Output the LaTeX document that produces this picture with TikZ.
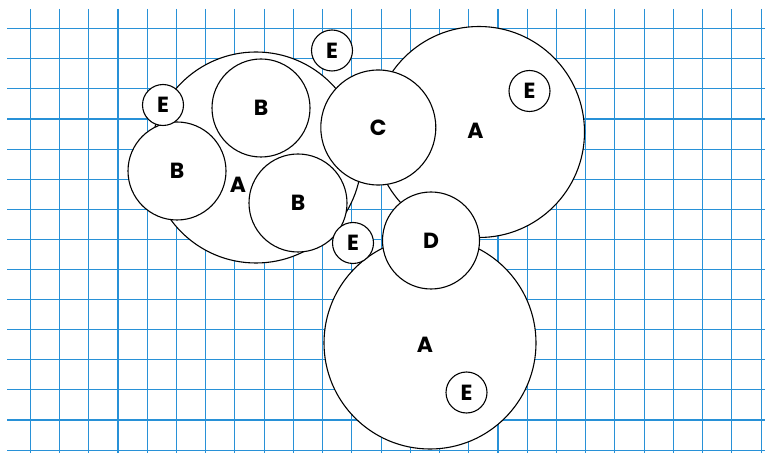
\documentclass[tikz,border=0pt]{standalone}
\usepackage{fontspec}
\usepackage{tikz}
\newfontfamily\tagfont{Poppins}[BoldFont={Poppins Bold}]
\definecolor{gridblue}{RGB}{40,145,215}
\tikzstyle{gridline} = [draw=gridblue, line width=1.1bp]
\tikzstyle{disc} = [circle, fill=white, draw=black, line width=1.1bp,
inner sep=0pt, font=\tagfont\bfseries\fontsize{22}{22}\selectfont]
\tikzstyle{big} = [disc, minimum size=211bp]
\tikzstyle{mid} = [disc, minimum size=98bp]
\tikzstyle{small} = [disc, minimum size=41bp]
\tikzstyle{tag} = [inner sep=0pt, font=\tagfont\bfseries\fontsize{22}{22}\selectfont]

\begin{document}
\begin{tikzpicture}[x=1bp, y=-1bp]
  \useasboundingbox[fill=white] (0,0) rectangle (765,453);
  % grid
  \foreach \i in {0,...,25} {
    \draw[gridline] ({30.3+29.23*\i},9) -- ({30.3+29.23*\i},453);
  }
  \foreach \j in {0,...,14} {
    \draw[gridline] (7,{28.7+30.1*\j}) -- (765,{28.7+30.1*\j});
  }
  % left cluster
  \node[big]                       (A1) at (256,157.5) {};
  \node[tag]                       (A1tag) at (238,185) {A};
  \node[mid]                       (B1) at (261,108) {B};
  \node[mid]                       (B2) at (177,171) {B};
  \node[mid]                       (B3) at (298,203) {B};
  \node[small]                     (E1) at (163,105) {E};
  \node[small]                     (E2) at (332,50.5) {E};
  % right cluster
  \node[big]                       (A2) at (479,132) {};
  \node[tag]                       (A2tag) at (475.5,131) {A};
  \node[small]                     (E3) at (529.5,91) {E};
  \node[disc, minimum size=115bp]  (C) at (378.3,127.5) {C};
  % bottom cluster
  \node[big, minimum size=212bp]   (A3) at (430,343) {};
  \node[tag]                       (A3tag) at (425,345) {A};
  \node[small]                     (E4) at (466.5,392.5) {E};
  \node[small]                     (E5) at (353,243) {E};
  \node[disc, minimum size=97bp]   (D) at (431,240.5) {D};
\end{tikzpicture}
\end{document}
